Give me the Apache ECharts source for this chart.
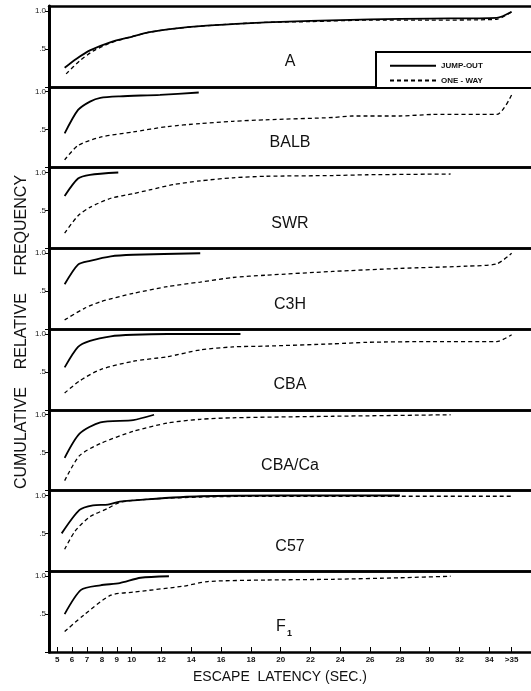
<!DOCTYPE html>
<html>
<head>
<meta charset="utf-8">
<script src="https://cdn.jsdelivr.net/npm/echarts@6/dist/echarts.min.js"></script>
<style>
  html, body { margin: 0; padding: 0; background: #fff; }
  #chart { width: 531px; height: 691px; }
</style>
</head>
<body>
<div id="chart"></div>
<script>
// escape latency (sec) where the x ticks sit, and what they say
const latencyTicks = [5, 6, 7, 8, 9, 10, 12, 14, 16, 18, 20, 22, 24, 26, 28, 30, 32, 34, 35.5]
const latencyLabels = ['5', '6', '7', '8', '9', '10', '12', '14', '16', '18', '20', '22', '24', '26', '28', '30', '32', '34', '>35']
const strains = ['A', 'BALB', 'SWR', 'C3H', 'CBA', 'CBA/Ca', 'C57', 'F1']

// [latency, cumulative relative frequency]
const jumpOutA = [[5.5, .25], [6.3, .37], [7.2, .48], [8.6, .59], [10, .66], [11.2, .72], [13, .77], [14.6, .80], [17, .83], [19, .85], [22, .87], [26, .89], [30, .90], [34.5, .91], [35.5, .99]]
const oneWayA = [[5.6, .17], [6.5, .34], [7.4, .47], [8.6, .58], [10, .66], [11.2, .72], [13, .77], [14.6, .80], [17, .83], [19, .85], [22, .86], [26, .88], [30, .88], [34.5, .89], [35.5, .99]]
const jumpOutBALB = [[5.5, .45], [6.4, .76], [7.2, .87], [7.9, .92], [9.2, .94], [11.9, .96], [14.5, .99]]
const oneWayBALB = [[5.5, .10], [6.4, .29], [7.9, .40], [10.1, .47], [12.4, .54], [14.6, .58], [16.8, .61], [19, .63], [23.5, .66], [24.8, .68], [28, .68], [30.2, .70], [34.5, .70], [35.5, .96]]
const jumpOutSWR = [[5.5, .69], [6.4, .92], [7.2, .97], [9.1, 1.0]]
const oneWaySWR = [[5.5, .20], [6.4, .43], [7.2, .54], [8.6, .66], [10.1, .72], [11.2, .77], [12.8, .84], [14.6, .89], [16.8, .93], [19, .95], [23.5, .96], [25.8, .97], [31.4, .98]]
const jumpOutC3H = [[5.5, .59], [6.4, .85], [7.2, .90], [8.6, .96], [10.1, .98], [14.6, 1.0]]
const oneWayC3H = [[5.5, .12], [6.8, .27], [7.9, .36], [10.1, .47], [12.4, .56], [14.6, .62], [16.8, .68], [19, .71], [23.5, .76], [28, .80], [32.5, .83], [34.5, .86], [35.5, 1.0]]
const jumpOutCBA = [[5.5, .56], [6.4, .83], [7.2, .91], [8.6, .97], [10.1, .99], [12.4, 1.0], [17.3, 1.0]]
const oneWayCBA = [[5.5, .22], [6.5, .38], [7.9, .53], [10.1, .64], [12.4, .70], [14.6, .79], [16.8, .83], [19, .84], [23.5, .87], [25.8, .89], [30.2, .90], [34.5, .90], [35.5, .99]]
const jumpOutCBACa = [[5.5, .43], [6.5, .75], [7.9, .90], [10.1, .93], [11.5, 1.0]]
const oneWayCBACa = [[5.5, .13], [6.5, .46], [7.9, .62], [10.1, .78], [12.4, .89], [14.6, .94], [16.8, .96], [23.5, .98], [31.4, 1.0]]
const jumpOutC57 = [[5.3, .50], [6.5, .81], [7.4, .87], [8.4, .88], [9.2, .92], [11, .95], [14.6, .99], [20, 1.0], [28, 1.0]]
const oneWayC57 = [[5.5, .29], [6.2, .53], [7.2, .72], [8.4, .83], [9.2, .91], [11, .95], [14.6, .98], [19, .99], [35.5, .99]]
const jumpOutF1 = [[5.5, .50], [6.6, .82], [7.9, .88], [9.2, .91], [10.6, .98], [12.5, 1.0]]
const oneWayF1 = [[5.5, .27], [6.8, .49], [8.6, .75], [10.1, .79], [13.5, .87], [15.1, .93], [19, .95], [23.5, .96], [28, .98], [31.4, 1.0]]

const jumpOut = [jumpOutA, jumpOutBALB, jumpOutSWR, jumpOutC3H, jumpOutCBA, jumpOutCBACa, jumpOutC57, jumpOutF1]
const oneWay = [oneWayA, oneWayBALB, oneWaySWR, oneWayC3H, oneWayCBA, oneWayCBACa, oneWayC57, oneWayF1]

const font = '"Liberation Sans", Arial, sans-serif'
const panelTop = 6
const panelH = 80.75

let myChart = echarts.init(document.getElementById('chart'))

let grid = []
let xAxis = []
let yAxis = []
let series = []
let graphic = []

strains.forEach((name, i) => {
    const top = panelTop + i * panelH
    const last = i === strains.length - 1
    // no frame on the right: the scan is cropped there
    grid.push({
        left: 49,
        right: 0,
        top: top,
        height: panelH,
        show: false
    })
    xAxis.push({
        type: 'value',
        gridIndex: i,
        position: 'bottom',
        min: 4.45,
        max: 36.8,
        splitLine: { show: false },
        axisLine: { show: true, onZero: false, lineStyle: { color: '#000', width: 2.5 } },
        axisTick: {
            show: last,
            inside: true,
            length: 5,
            customValues: latencyTicks,
            lineStyle: { color: '#000', width: 1 }
        },
        axisLabel: {
            show: last,
            customValues: latencyTicks,
            margin: 4,
            fontFamily: font,
            fontSize: 8,
            fontWeight: 'bold',
            color: '#111',
            formatter: v => latencyLabels[latencyTicks.indexOf(v)]
        }
    })
    // top frame line of each panel
    xAxis.push({
        type: 'value',
        gridIndex: i,
        position: 'top',
        min: 4.45,
        max: 36.8,
        splitLine: { show: false },
        axisLine: { show: true, onZero: false, lineStyle: { color: '#000', width: 2.5 } },
        axisTick: { show: false },
        axisLabel: { show: false }
    })
    yAxis.push({
        type: 'value',
        gridIndex: i,
        min: 0,
        max: 1.066,
        splitLine: { show: false },
        axisLine: { show: true, lineStyle: { color: '#000', width: 3 } },
        axisTick: {
            show: true,
            length: 4,
            customValues: [0, 0.5, 1],
            lineStyle: { color: '#000', width: 1 }
        },
        axisLabel: {
            customValues: [0.5, 1],
            margin: 3,
            fontFamily: font,
            fontSize: 8,
            color: '#222',
            formatter: v => (v === 1 ? '1.0' : '.5')
        }
    })
    series.push({
        name: 'JUMP-OUT',
        type: 'line',
        xAxisIndex: i * 2,
        yAxisIndex: i,
        data: jumpOut[i],
        symbol: 'none',
        smooth: 0.25,
        lineStyle: { color: '#000', width: 1.8 },
        itemStyle: { color: '#000' }
    })
    series.push({
        name: 'ONE - WAY',
        type: 'line',
        xAxisIndex: i * 2,
        yAxisIndex: i,
        data: oneWay[i],
        symbol: 'none',
        smooth: 0.25,
        lineStyle: { color: '#000', width: 1.3, type: [4, 3] },
        itemStyle: { color: '#000' }
    })
    // strain label inside the panel
    if (name === 'F1') {
        graphic.push({
            type: 'text', left: 276, top: top + 47,
            style: { text: 'F', font: '16px ' + font, fill: '#111' }
        })
        graphic.push({
            type: 'text', left: 287, top: top + 58,
            style: { text: '1', font: 'bold 9px ' + font, fill: '#111' }
        })
    } else {
        graphic.push({
            type: 'text',
            x: 290,
            y: top + 56,
            style: {
                text: name,
                font: '16px ' + font,
                fill: '#111',
                align: 'center',
                verticalAlign: 'middle'
            }
        })
    }
})

// legend frame in panel A
graphic.push({
    type: 'rect',
    shape: { x: 376, y: 52, width: 170, height: 36 },
    style: { fill: '#fff', stroke: '#000', lineWidth: 2 },
    z: 50
})
// axis titles
graphic.push({
    type: 'text',
    x: 22,
    y: 332,
    rotation: Math.PI / 2,
    style: {
        text: 'CUMULATIVE    RELATIVE    FREQUENCY',
        font: '16px ' + font,
        fill: '#111',
        align: 'center',
        verticalAlign: 'middle'
    }
})
graphic.push({
    type: 'text',
    x: 280,
    y: 677,
    style: {
        text: 'ESCAPE  LATENCY (SEC.)',
        font: '14px ' + font,
        fill: '#111',
        align: 'center',
        verticalAlign: 'middle'
    }
})

let option = {
    backgroundColor: '#FFFFFF',
    animation: false,
    legend: {
        data: ['JUMP-OUT', 'ONE - WAY'],
        orient: 'vertical',
        left: 384,
        top: 56,
        itemWidth: 46,
        itemHeight: 12,
        itemGap: 5,
        z: 60,
        itemStyle: { opacity: 0 },
        textStyle: {
            fontFamily: font,
            fontSize: 8,
            fontWeight: 'bold',
            color: '#111'
        }
    },
    grid: grid,
    xAxis: xAxis,
    yAxis: yAxis,
    series: series,
    graphic: graphic
}
myChart.setOption(option)
</script>
</body>
</html>
